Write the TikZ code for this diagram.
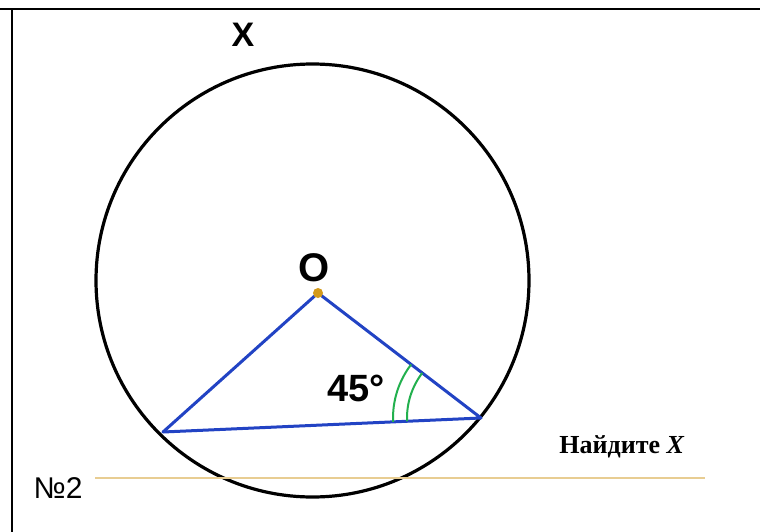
\documentclass[tikz,border=0pt]{standalone}
\usepackage{fontspec}
\setmainfont{Liberation Serif}
\newfontfamily\arialf{Liberation Sans}
\usetikzlibrary{angles}
\definecolor{triblue}{HTML}{2243C4}
\definecolor{arcgreen}{HTML}{22B04E}
\definecolor{dotgold}{HTML}{D39A1C}
\definecolor{ruleyel}{HTML}{E8CD92}
\tikzset{
  frame/.style={line width=2.2pt,black},
  tri/.style={line width=3pt,triblue,line cap=round,line join=round},
  bigsans/.style={font=\arialf\bfseries\fontsize{34}{34}\selectfont,inner sep=0pt},
}
\begin{document}
\begin{tikzpicture}[x=1pt,y=-1pt]
\useasboundingbox (0,0) rectangle (760,532);
\fill[white] (0,0) rectangle (760,532);
% frame
\coordinate (TL) at (0,9);
\coordinate (TR) at (760,9);
\coordinate (VT) at (12,9);
\coordinate (VB) at (12,532);
\draw[frame] (TL) -- (TR);
\draw[frame] (VT) -- (VB);
% circle
\coordinate (C) at (312.5,280.5);
\draw[line width=3.2pt,black] (C) circle[radius=216.5pt];
% triangle
\coordinate (O) at (318,293);
\coordinate (A) at (163,432);
\coordinate (B) at (481,418);
\draw[tri] (O) -- (A) -- (B) -- cycle;
\pic[draw=arcgreen,line width=2pt,angle radius=88pt] {angle=O--B--A};
\pic[draw=arcgreen,line width=2pt,angle radius=74pt] {angle=O--B--A};
\fill[dotgold] (O) circle[radius=5pt];
% labels
\node[bigsans] (lx) at (243,35) {X};
\node[bigsans,font=\arialf\bfseries\fontsize{40}{40}\selectfont] (lo) at (314,268) {O};
\node[bigsans,font=\arialf\bfseries\fontsize{38}{38}\selectfont] (l45) at (356,388) {45°};
% bottom rule and texts
\coordinate (R1) at (95,478);
\coordinate (R2) at (705,478);
\draw[ruleyel,line width=1.5pt] (R1) -- (R2);
\node[inner sep=0pt,font=\bfseries\fontsize{26}{26}\selectfont] (find) at (622,447) {Найдите \textit{X}};
\node[inner sep=0pt,font=\arialf\fontsize{30}{30}\selectfont] (num) at (58,488) {№2};
\end{tikzpicture}
\end{document}
